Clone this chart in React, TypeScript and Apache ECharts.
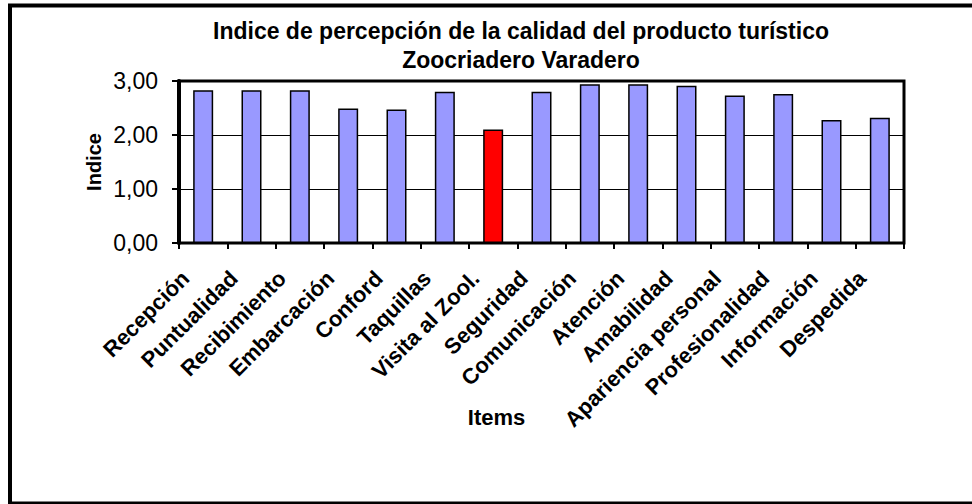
import React, { useEffect, useRef } from "react";
import * as echarts from "echarts";

const titleLines = [
  "Indice de percepción de la calidad del producto turístico",
  "Zoocriadero Varadero",
];
const categories = [
  "Recepción",
  "Puntualidad",
  "Recibimiento",
  "Embarcación",
  "Conford",
  "Taquillas",
  "Visita al Zool.",
  "Seguridad",
  "Comunicación",
  "Atención",
  "Amabilidad",
  "Apariencia personal",
  "Profesionalidad",
  "Información",
  "Despedida",
];
const values = [2.83, 2.83, 2.83, 2.49, 2.47, 2.8, 2.1, 2.8, 2.94, 2.94, 2.91, 2.73, 2.76, 2.28, 2.32];
const highlighted = ["Visita al Zool."];
const yTicks = [0, 1, 2, 3];
const yAxisName = "Indice";
const xAxisName = "Items";

const FONT = '"Liberation Sans", Arial, Helvetica, sans-serif';

export default function App() {
  const ref = useRef<HTMLDivElement>(null);
  useEffect(() => {
    if (!ref.current) return;
    const chart = echarts.init(ref.current, null, { renderer: "svg" });
    const data = categories.map((c, i) => ({
      value: values[i],
      itemStyle: {
        color: highlighted.includes(c) ? "#FF0000" : "#9999FF",
        borderColor: "#000",
        borderWidth: 1.5,
      },
    }));
    chart.setOption({
      animation: false,
      backgroundColor: "#fff",
      title: {
        text: titleLines.join("\n"),
        left: 521,
        top: 16,
        textAlign: "center",
        padding: 0,
        textStyle: {
          fontFamily: FONT,
          fontWeight: "bold",
          fontSize: 23,
          lineHeight: 29,
          color: "#000",
        },
      },
      grid: {
        left: 179,
        top: 81,
        width: 725,
        height: 162,
        show: true,
        borderColor: "#000",
        borderWidth: 3,
        backgroundColor: "transparent",
        containLabel: false,
      },
      xAxis: {
        type: "category",
        data: categories,
        name: xAxisName,
        nameLocation: "middle",
        nameGap: 163,
        nameMoveOverlap: false,
        nameTextStyle: {
          fontFamily: FONT,
          fontWeight: "bold",
          fontSize: 22,
          color: "#000",
          padding: [0, 90, 0, 0],
        },
        axisLine: { show: true, lineStyle: { color: "#000", width: 2 } },
        axisTick: { show: true, length: 6, lineStyle: { color: "#000", width: 2 } },
        axisLabel: {
          rotate: 45,
          interval: 0,
          margin: 14,
          formatter: (v: string) => "{t|" + v + "}{sp|}",
          rich: {
            t: {
              fontFamily: FONT,
              fontWeight: "bold",
              fontSize: 22,
              color: "#000",
            },
            sp: { width: 25 },
          },
        },
        splitLine: { show: false },
      },
      yAxis: {
        type: "value",
        min: yTicks[0],
        max: yTicks[yTicks.length - 1],
        interval: 1,
        name: yAxisName,
        nameLocation: "middle",
        nameGap: 75,
        nameMoveOverlap: false,
        nameTextStyle: {
          fontFamily: FONT,
          fontWeight: "bold",
          fontSize: 20,
          color: "#000",
        },
        axisLine: { show: true, lineStyle: { color: "#000", width: 4 } },
        axisTick: { show: true, length: 7, lineStyle: { color: "#000", width: 2 } },
        axisLabel: {
          margin: 21,
          fontFamily: FONT,
          fontSize: 23,
          color: "#000",
          formatter: (v: number) => v.toFixed(2).replace(".", ","),
        },
        splitLine: { show: true, lineStyle: { color: "#000", width: 1 } },
      },
      graphic: [
        {
          type: "rect",
          shape: { x: 10, y: 5.5, width: 980, height: 498 },
          style: { fill: "transparent", stroke: "#000", lineWidth: 4 },
          silent: true,
          z: 100,
        },
      ],
      series: [
        {
          type: "bar",
          data,
          barWidth: 20,
        },
      ],
    });
    return () => chart.dispose();
  }, []);
  return (
    <div
      ref={ref}
      style={{ position: "fixed", left: 0, top: 0, width: 972, height: 504, background: "#fff" }}
    />
  );
}
